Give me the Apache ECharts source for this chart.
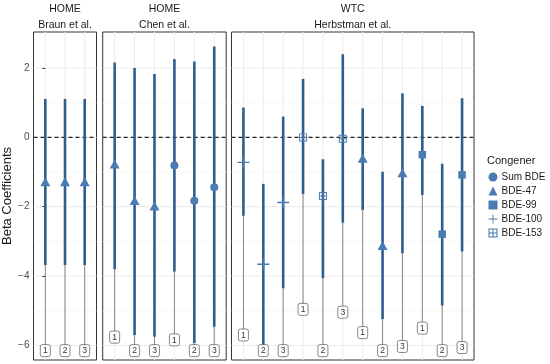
<!DOCTYPE html>
<html>
<head>
<meta charset="utf-8">
<script src="https://cdn.jsdelivr.net/npm/echarts@6/dist/echarts.min.js"></script>
<style>html,body{margin:0;padding:0;background:#fff;}#c{width:550px;height:364px;}</style>
</head>
<body>
<div id="c"></div>
<script>
// ---- data ----
const studyGroups = ['HOME', 'HOME', 'WTC'];
const studyNames = ['Braun et al.', 'Chen et al.', 'Herbstman et al.'];
const congeners = ['Sum BDE', 'BDE-47', 'BDE-99', 'BDE-100', 'BDE-153'];
const yTicks = [-6, -4, -2, 0, 2];
const yMinorTicks = [-5, -3, -1, 1];

const braunEst   = [-1.28, -1.28, -1.28];
const braunLow   = [-3.68, -3.68, -3.68];
const braunHigh  = [1.11, 1.11, 1.11];
const braunCong  = ['BDE-47', 'BDE-47', 'BDE-47'];
const braunLab   = ['1', '2', '3'];
const braunLabY  = [-6.15, -6.15, -6.15];

const chenEst  = [-0.77, -1.82, -1.98, -0.81, -1.83, -1.44];
const chenLow  = [-3.80, -5.70, -5.75, -3.87, -5.93, -5.46];
const chenHigh = [2.16, 2.00, 1.83, 2.26, 2.19, 2.62];
const chenCong = ['BDE-47', 'BDE-47', 'BDE-47', 'Sum BDE', 'Sum BDE', 'Sum BDE'];
const chenLab  = ['1', '2', '3', '1', '2', '3'];
const chenLabY = [-5.76, -6.15, -6.15, -5.84, -6.15, -6.15];

const herbEst  = [-0.72, -3.66, -1.88, 0.00, -1.69, -0.04, -0.60, -3.12, -1.02, -0.50, -2.79, -1.08];
const herbLow  = [-2.26, -5.98, -4.35, -1.63, -4.06, -2.46, -2.09, -5.24, -3.34, -1.66, -4.85, -3.29];
const herbHigh = [0.86, -1.34, 0.60, 1.69, -0.63, 2.40, 0.84, -0.99, 1.27, 0.91, -0.76, 1.13];
const herbCong = ['BDE-100', 'BDE-100', 'BDE-100', 'BDE-153', 'BDE-153', 'BDE-153',
                  'BDE-47', 'BDE-47', 'BDE-47', 'BDE-99', 'BDE-99', 'BDE-99'];
const herbLab  = ['1', '2', '3', '1', '2', '3', '1', '2', '3', '1', '2', '3'];
const herbLabY = [-5.70, -6.15, -6.15, -4.96, -6.15, -5.04, -5.63, -6.15, -6.03, -5.50, -6.15, -6.06];

// ---- styling / layout ----
const panelData = [
  {est: braunEst, low: braunLow, high: braunHigh, cong: braunCong, lab: braunLab, labY: braunLabY},
  {est: chenEst, low: chenLow, high: chenHigh, cong: chenCong, lab: chenLab, labY: chenLabY},
  {est: herbEst, low: herbLow, high: herbHigh, cong: herbCong, lab: herbLab, labY: herbLabY}
];
const gridBoxes = [
  {left: 33.5, width: 63},
  {left: 102.7, width: 123.5},
  {left: 231.5, width: 242.5}
];
const TOP = 32, HEIGHT = 328;
const YMIN = -6.42, YMAX = 3.04;
const FONT = 'Liberation Sans, Arial, sans-serif';
const BAR = '#2e5e8c';
const PT = '#4a7bb2';
const symbols = {
  'Sum BDE': 'circle',
  'BDE-47': 'triangle',
  'BDE-99': 'rect',
  'BDE-100': 'path://M0,4.4h10v1.2h-10z M4.4,0h1.2v10h-1.2z',
  'BDE-153': 'path://M0,0h10v10h-10z M1.2,1.2v7.6h7.6v-7.6z M4.4,1.2h1.2v7.6h-1.2z M1.2,4.4h7.6v1.2h-7.6z'
};
const legendIcons = {
  'Sum BDE': 'circle',
  'BDE-47': 'triangle',
  'BDE-99': 'rect',
  'BDE-100': 'path://M0,4.5h10v1h-10z M4.5,0h1v10h-1z',
  'BDE-153': 'path://M0,0h10v10h-10z M1.2,1.2v7.6h7.6v-7.6z M4.4,1.2h1.2v7.6h-1.2z M1.2,4.4h7.6v1.2h-7.6z'
};
const symSize = {'Sum BDE': 8, 'BDE-47': [10, 9], 'BDE-99': 7.5, 'BDE-100': 12, 'BDE-153': 8};

const grids = [], xAxes = [], yAxes = [], series = [], graphics = [];

gridBoxes.forEach((g, i) => {
  const n = panelData[i].est.length;
  grids.push({left: g.left, top: TOP, width: g.width, height: HEIGHT, show: true,
    borderColor: '#333', borderWidth: 1, backgroundColor: '#fff', containLabel: false});
  xAxes.push({type: 'value', gridIndex: i, min: -0.6, max: n - 0.4, show: false});
  yAxes.push({type: 'value', gridIndex: i, min: YMIN, max: YMAX,
    axisLine: {show: false}, splitLine: {show: false},
    axisTick: {show: i === 0, length: 3, lineStyle: {color: '#333', width: 1}, customValues: yTicks},
    axisLabel: {show: i === 0, customValues: yTicks, color: '#4d4d4d', fontSize: 10, fontFamily: FONT, margin: 4,
      formatter: v => (v < 0 ? '\u2212' + Math.abs(v) : String(v))},
    name: i === 0 ? 'Beta Coefficients' : '', nameLocation: 'middle', nameGap: 17,
    nameTextStyle: {color: '#1a1a1a', fontSize: 13, fontFamily: FONT}
  });

  // gridlines
  const gl = [];
  yTicks.forEach(v => gl.push(['h', v, 1]));
  yMinorTicks.forEach(v => gl.push(['h', v, 0]));
  for (let k = 0; k < n; k++) gl.push(['v', k, 1]);
  series.push({type: 'custom', xAxisIndex: i, yAxisIndex: i, z: 0, silent: true, data: gl.map((r, k) => [k]),
    renderItem: (params, api) => {
      const cs = params.coordSys;
      const r = gl[params.dataIndex];
      let shape;
      if (r[0] === 'h') {
        const y = api.coord([0, r[1]])[1];
        shape = {x1: cs.x, y1: y, x2: cs.x + cs.width, y2: y};
      } else {
        const x = api.coord([r[1], 0])[0];
        shape = {x1: x, y1: cs.y, x2: x, y2: cs.y + cs.height};
      }
      return {type: 'line', shape: shape,
        style: {stroke: r[2] ? '#ebebeb' : '#f4f4f4', lineWidth: r[2] ? 1 : 0.6}};
    }
  });

  // zero dashed line
  series.push({type: 'custom', xAxisIndex: i, yAxisIndex: i, z: 1, silent: true, data: [[0]],
    renderItem: (params, api) => {
      const cs = params.coordSys;
      const y = api.coord([0, 0])[1];
      return {type: 'line', shape: {x1: cs.x, y1: y, x2: cs.x + cs.width, y2: y},
        style: {stroke: '#222', lineWidth: 1.1, lineDash: [4, 3]}};
    }
  });

  const pd = panelData[i];
  const rows = pd.est.map((e, k) => [k, e, pd.low[k], pd.high[k], pd.labY[k]]);
  // connectors + error bars
  series.push({type: 'custom', xAxisIndex: i, yAxisIndex: i, z: 2, silent: true, data: rows,
    renderItem: (params, api) => {
      const k = api.value(0);
      const pE = api.coord([k, api.value(1)]);
      const pL = api.coord([k, api.value(2)]);
      const pH = api.coord([k, api.value(3)]);
      const pLab = api.coord([k, api.value(4)]);
      return {type: 'group', children: [
        {type: 'line', shape: {x1: pE[0], y1: pE[1], x2: pLab[0], y2: pLab[1]},
          style: {stroke: '#7a7a7a', lineWidth: 0.9}},
        {type: 'line', shape: {x1: pL[0], y1: pL[1], x2: pH[0], y2: pH[1]},
          style: {stroke: BAR, lineWidth: 2.6}}
      ]};
    }
  });

  // markers by congener
  congeners.forEach(c => {
    const d = [];
    pd.est.forEach((e, k) => { if (pd.cong[k] === c) d.push([k, e]); });
    if (!d.length) return;
    series.push({type: 'scatter', name: c, xAxisIndex: i, yAxisIndex: i, z: 3, silent: true,
      symbol: symbols[c], symbolSize: symSize[c], data: d,
      itemStyle: {color: PT, opacity: 1}});
  });

  // label boxes
  series.push({type: 'custom', xAxisIndex: i, yAxisIndex: i, z: 4, silent: true,
    data: pd.lab.map((l, k) => [k, pd.labY[k]]),
    renderItem: (params, api) => {
      const p = api.coord([api.value(0), api.value(1)]);
      const txt = pd.lab[params.dataIndex];
      return {type: 'group', children: [
        {type: 'rect', shape: {x: p[0] - 5, y: p[1] - 6, width: 10, height: 12, r: 2},
          style: {fill: '#fff', stroke: '#555', lineWidth: 0.7}},
        {type: 'text', x: p[0], y: p[1] + 0.5,
          style: {text: txt, fill: '#333', fontSize: 8.5, fontFamily: FONT, align: 'center', verticalAlign: 'middle'}}
      ]};
    }
  });

  // strip text
  const cx = g.left + g.width / 2;
  graphics.push({type: 'text', x: cx, y: 9, style: {text: studyGroups[i], fill: '#1a1a1a', fontSize: 10.5,
    fontFamily: FONT, align: 'center', verticalAlign: 'middle'}});
  graphics.push({type: 'text', x: cx, y: 25, style: {text: studyNames[i], fill: '#1a1a1a', fontSize: 10.5,
    fontFamily: FONT, align: 'center', verticalAlign: 'middle'}});
});

graphics.push({type: 'text', x: 487, y: 161, style: {text: 'Congener', fill: '#1a1a1a', fontSize: 11,
  fontFamily: FONT, align: 'left', verticalAlign: 'middle'}});

const chart = echarts.init(document.getElementById('c'), null, {renderer: 'canvas'});
chart.setOption({
  animation: false,
  backgroundColor: '#fff',
  grid: grids, xAxis: xAxes, yAxis: yAxes,
  legend: {
    orient: 'vertical', left: 488.5, top: 172, padding: 0, itemWidth: 9, itemHeight: 9, itemGap: 4,
    selectedMode: false,
    textStyle: {color: '#1a1a1a', fontSize: 10, fontFamily: FONT, padding: [0, 0, 0, -1]},
    data: congeners.map(c => ({name: c, icon: legendIcons[c], itemStyle: {color: PT}}))
  },
  graphic: graphics,
  series: series
});
</script>
</body>
</html>
